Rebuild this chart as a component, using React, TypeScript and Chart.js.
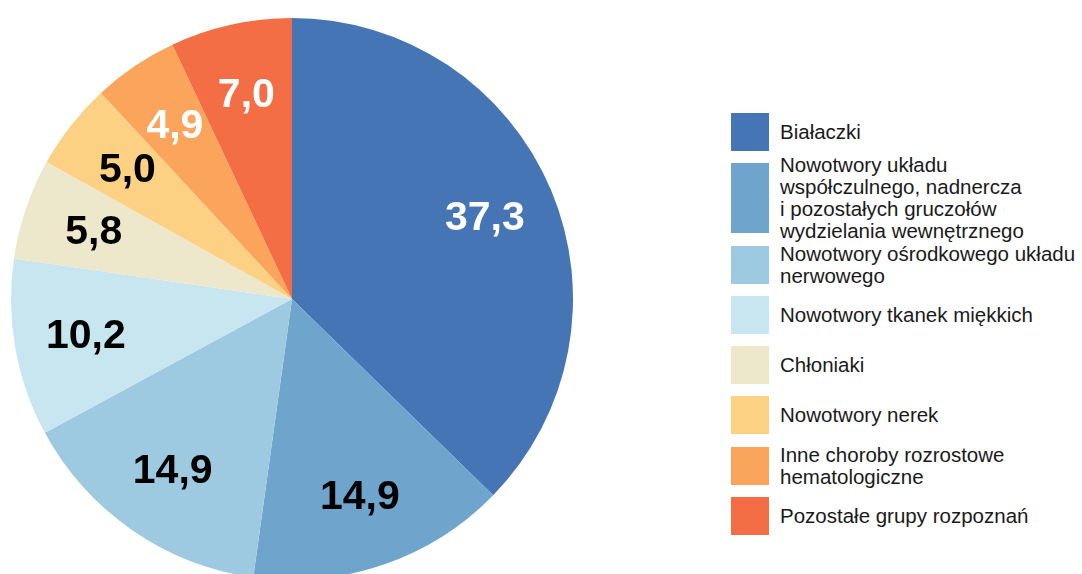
import React, { useEffect, useRef } from "react";
import { Chart, registerables } from "chart.js";

Chart.register(...registerables);

const categories: string[][] = [
  ["Białaczki"],
  ["Nowotwory układu", "współczulnego, nadnercza", "i pozostałych gruczołów", "wydzielania wewnętrznego"],
  ["Nowotwory ośrodkowego układu", "nerwowego"],
  ["Nowotwory tkanek miękkich"],
  ["Chłoniaki"],
  ["Nowotwory nerek"],
  ["Inne choroby rozrostowe", "hematologiczne"],
  ["Pozostałe grupy rozpoznań"],
];

const values: number[] = [37.3, 14.9, 14.9, 10.2, 5.8, 5.0, 4.9, 7.0];

const colors = ["#4575b4", "#6fa5cc", "#9ecae1", "#c8e6f0", "#ede8cb", "#fdd183", "#fba45c", "#f46e45"];
const labelColors = ["#ffffff", "#000000", "#000000", "#000000", "#000000", "#000000", "#ffffff", "#ffffff"];

const FONT = '"Liberation Sans", Arial, sans-serif';

const labelPlugin = {
  id: "sliceLabels",
  afterDatasetsDraw(chart: any) {
    const ctx = chart.ctx;
    const meta = chart.getDatasetMeta(0);
    ctx.save();
    ctx.font = `bold 41px ${FONT}`;
    ctx.textAlign = "center";
    ctx.textBaseline = "middle";
    meta.data.forEach((arc: any, i: number) => {
      const p = arc.getProps(["x", "y", "startAngle", "endAngle", "outerRadius"], true);
      const mid = (p.startAngle + p.endAngle) / 2;
      const r = p.outerRadius * 0.745;
      const x = p.x + Math.cos(mid) * r;
      const y = p.y + Math.sin(mid) * r;
      ctx.fillStyle = labelColors[i];
      ctx.fillText(values[i].toFixed(1).replace(".", ","), x, y + 1);
    });
    ctx.restore();
  },
};

export default function App() {
  const ref = useRef<HTMLCanvasElement | null>(null);

  useEffect(() => {
    document.body.style.margin = "0";
    if (!ref.current) return;
    const chart = new Chart(ref.current, {
      type: "pie",
      data: {
        labels: categories.map((c) => c.join(" ")),
        datasets: [
          {
            data: values,
            backgroundColor: colors,
            borderWidth: 0,
          },
        ],
      },
      options: {
        animation: false,
        responsive: false,
        devicePixelRatio: 1,
        layout: { padding: 11 },
        plugins: {
          legend: { display: false },
          tooltip: { enabled: false },
        },
      },
      plugins: [labelPlugin],
    });
    return () => chart.destroy();
  }, []);

  return (
    <div style={{ position: "relative", width: 1082, height: 574, overflow: "hidden", background: "#fff" }}>
      <canvas ref={ref} width={584} height={598} style={{ position: "absolute", left: 0, top: 0 }} />
      <div style={{ position: "absolute", left: 731, top: 113, fontFamily: FONT }}>
        {categories.map((lines, i) => {
          const h = 38 + Math.max(0, lines.length - 2) * 16;
          return (
            <div key={i} style={{ position: "relative", height: h, marginBottom: 12.3 }}>
              <div style={{ position: "absolute", left: 0, top: 0, width: 38, height: h, background: colors[i] }} />
              <div
                style={{
                  position: "absolute",
                  left: 49,
                  top: "50%",
                  transform: "translateY(-50%)",
                  fontSize: 20.5,
                  lineHeight: "22px",
                  color: "#1a1a1a",
                  whiteSpace: "nowrap",
                }}
              >
                {lines.map((l, j) => (
                  <div key={j}>{l}</div>
                ))}
              </div>
            </div>
          );
        })}
      </div>
    </div>
  );
}
